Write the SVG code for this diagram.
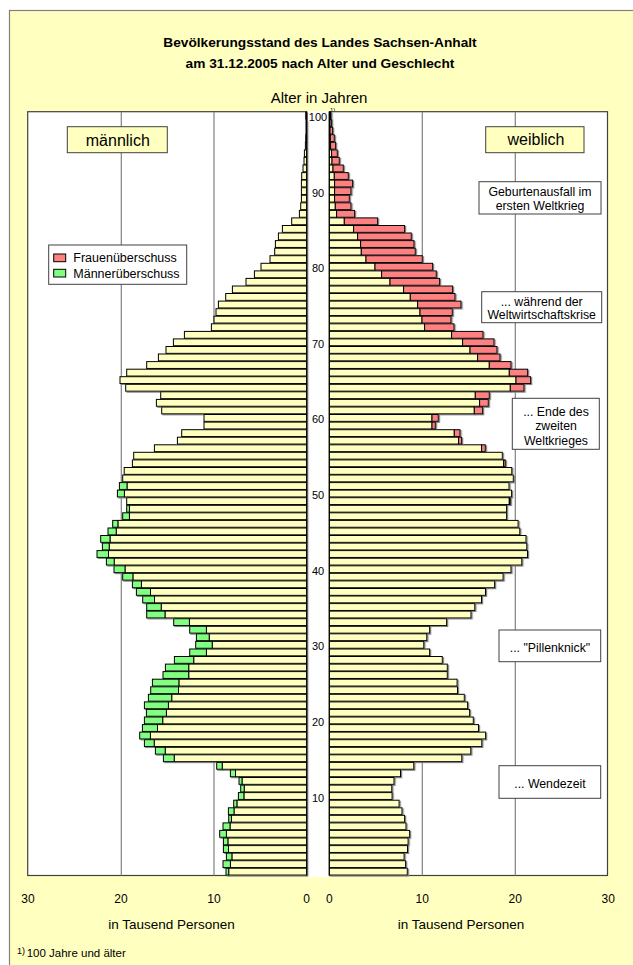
<svg xmlns="http://www.w3.org/2000/svg" width="633" height="965" viewBox="0 0 633 965">
<style>
text{font-family:"Liberation Sans",Arial,sans-serif;fill:#000}
.t{font-weight:bold;font-size:13.7px;text-anchor:middle}
.ax{font-size:12px;text-anchor:middle}
.age{font-size:11px;text-anchor:middle}
.note{font-size:12.3px;text-anchor:middle}
.lg{font-size:12.5px}
.yl{fill:#FFFFC0;stroke:#000;stroke-width:1}
.rd{fill:#FF8080;stroke:#000;stroke-width:1}
.gr{fill:#80FF80;stroke:#000;stroke-width:1}
.frame{fill:#fff;stroke:#404040;stroke-width:1.2}
.grid{stroke:#808080;stroke-width:1.2}
.box{fill:#fff;stroke:#404040;stroke-width:1}
.ybox{fill:#FFFFC0;stroke:#404040;stroke-width:1}
</style>
<defs>
<filter id="sh" x="-5%" y="-2%" width="110%" height="104%">
<feDropShadow dx="1.2" dy="1" stdDeviation="0" flood-color="#808080" flood-opacity="1"/>
</filter>
</defs>
<rect x="0" y="0" width="633" height="965" fill="#fff"/>
<rect x="9.5" y="10.5" width="640" height="970" fill="#FFFFC0" stroke="#808080" stroke-width="1.2"/>
<g id="title">
<text class="t" x="320" y="46.7">Bevölkerungsstand des Landes Sachsen-Anhalt</text>
<text class="t" x="320" y="68">am 31.12.2005 nach Alter und Geschlecht</text>
<text x="319" y="103.3" font-size="15" text-anchor="middle">Alter in Jahren</text>
<text x="330" y="111.6" font-size="6">1)</text>
</g>
<g id="plot-frames">
<rect class="frame" x="27.7" y="111.7" width="279" height="763.8"/>
<rect class="frame" x="329.3" y="111.7" width="278.2" height="763.8"/>
<rect x="307.3" y="111.1" width="21.4" height="766" fill="#fff"/>
<line class="grid" x1="121.3" y1="111.7" x2="121.3" y2="875.5"/>
<line class="grid" x1="214" y1="111.7" x2="214" y2="875.5"/>
<line class="grid" x1="422.3" y1="111.7" x2="422.3" y2="875.5"/>
<line class="grid" x1="515.3" y1="111.7" x2="515.3" y2="875.5"/>
</g>
<g id="bars-male" filter="url(#sh)">
<rect class="yl" x="305.7" y="112.1" width="1" height="6.85"/>
<rect class="yl" x="306.0" y="119.6" width="0.7" height="6.85"/>
<rect class="yl" x="306.0" y="127.2" width="0.7" height="6.85"/>
<rect class="yl" x="305.7" y="134.7" width="1" height="6.85"/>
<rect class="yl" x="305.4" y="142.3" width="1.3" height="6.85"/>
<rect class="yl" x="304.4" y="149.9" width="2.3" height="6.85"/>
<rect class="yl" x="304.0" y="157.4" width="2.7" height="6.85"/>
<rect class="yl" x="303.0" y="165.0" width="3.7" height="6.85"/>
<rect class="yl" x="301.7" y="172.6" width="5" height="6.85"/>
<rect class="yl" x="301.4" y="180.1" width="5.3" height="6.85"/>
<rect class="yl" x="301.4" y="187.7" width="5.3" height="6.85"/>
<rect class="yl" x="301.4" y="195.2" width="5.3" height="6.85"/>
<rect class="yl" x="300.7" y="202.8" width="6" height="6.85"/>
<rect class="yl" x="299.4" y="210.4" width="7.3" height="6.85"/>
<rect class="yl" x="291.7" y="217.9" width="15" height="6.85"/>
<rect class="yl" x="282.4" y="225.5" width="24.3" height="6.85"/>
<rect class="yl" x="278.4" y="233.0" width="28.3" height="6.85"/>
<rect class="yl" x="275.4" y="240.6" width="31.3" height="6.85"/>
<rect class="yl" x="274.7" y="248.2" width="32" height="6.85"/>
<rect class="yl" x="270.0" y="255.7" width="36.7" height="6.85"/>
<rect class="yl" x="261.0" y="263.3" width="45.7" height="6.85"/>
<rect class="yl" x="254.4" y="270.9" width="52.3" height="6.85"/>
<rect class="yl" x="246.0" y="278.4" width="60.7" height="6.85"/>
<rect class="yl" x="232.4" y="286.0" width="74.3" height="6.85"/>
<rect class="yl" x="225.7" y="293.5" width="81" height="6.85"/>
<rect class="yl" x="218.4" y="301.1" width="88.3" height="6.85"/>
<rect class="yl" x="216.0" y="308.7" width="90.7" height="6.85"/>
<rect class="yl" x="214.0" y="316.2" width="92.7" height="6.85"/>
<rect class="yl" x="211.4" y="323.8" width="95.3" height="6.85"/>
<rect class="yl" x="184.4" y="331.4" width="122.3" height="6.85"/>
<rect class="yl" x="173.4" y="338.9" width="133.3" height="6.85"/>
<rect class="yl" x="166.0" y="346.5" width="140.7" height="6.85"/>
<rect class="yl" x="158.4" y="354.0" width="148.3" height="6.85"/>
<rect class="yl" x="146.7" y="361.6" width="160" height="6.85"/>
<rect class="yl" x="126.7" y="369.2" width="180" height="6.85"/>
<rect class="yl" x="120.0" y="376.7" width="186.7" height="6.85"/>
<rect class="yl" x="125.7" y="384.3" width="181" height="6.85"/>
<rect class="yl" x="160.7" y="391.8" width="146" height="6.85"/>
<rect class="yl" x="156.4" y="399.4" width="150.3" height="6.85"/>
<rect class="yl" x="161.7" y="407.0" width="145" height="6.85"/>
<rect class="yl" x="204.0" y="414.5" width="102.7" height="6.85"/>
<rect class="yl" x="204.0" y="422.1" width="102.7" height="6.85"/>
<rect class="yl" x="181.7" y="429.7" width="125" height="6.85"/>
<rect class="yl" x="177.4" y="437.2" width="129.3" height="6.85"/>
<rect class="yl" x="154.4" y="444.8" width="152.3" height="6.85"/>
<rect class="yl" x="133.7" y="452.3" width="173" height="6.85"/>
<rect class="yl" x="132.4" y="459.9" width="174.3" height="6.85"/>
<rect class="yl" x="124.2" y="467.5" width="182.5" height="6.85"/>
<rect class="yl" x="122.7" y="475.0" width="184" height="6.85"/>
<rect class="yl" x="127.0" y="482.6" width="179.7" height="6.85"/>
<rect class="gr" x="119.4" y="482.6" width="7.6" height="6.85"/>
<rect class="yl" x="124.4" y="490.1" width="182.3" height="6.85"/>
<rect class="gr" x="117.4" y="490.1" width="7" height="6.85"/>
<rect class="yl" x="126.7" y="497.7" width="180" height="6.85"/>
<rect class="yl" x="129.4" y="505.3" width="177.3" height="6.85"/>
<rect class="gr" x="126.7" y="505.3" width="2.7" height="6.85"/>
<rect class="yl" x="129.4" y="512.8" width="177.3" height="6.85"/>
<rect class="gr" x="122.7" y="512.8" width="6.7" height="6.85"/>
<rect class="yl" x="117.9" y="520.4" width="188.8" height="6.85"/>
<rect class="gr" x="112.7" y="520.4" width="5.2" height="6.85"/>
<rect class="yl" x="116.2" y="528.0" width="190.5" height="6.85"/>
<rect class="gr" x="108.0" y="528.0" width="8.2" height="6.85"/>
<rect class="yl" x="110.0" y="535.5" width="196.7" height="6.85"/>
<rect class="gr" x="100.7" y="535.5" width="9.3" height="6.85"/>
<rect class="yl" x="109.2" y="543.1" width="197.5" height="6.85"/>
<rect class="gr" x="102.4" y="543.1" width="6.8" height="6.85"/>
<rect class="yl" x="108.5" y="550.6" width="198.2" height="6.85"/>
<rect class="gr" x="97.0" y="550.6" width="11.5" height="6.85"/>
<rect class="yl" x="114.2" y="558.2" width="192.5" height="6.85"/>
<rect class="gr" x="106.4" y="558.2" width="7.8" height="6.85"/>
<rect class="yl" x="125.0" y="565.8" width="181.7" height="6.85"/>
<rect class="gr" x="114.0" y="565.8" width="11" height="6.85"/>
<rect class="yl" x="132.9" y="573.3" width="173.8" height="6.85"/>
<rect class="gr" x="122.7" y="573.3" width="10.2" height="6.85"/>
<rect class="yl" x="141.4" y="580.9" width="165.3" height="6.85"/>
<rect class="gr" x="132.4" y="580.9" width="9" height="6.85"/>
<rect class="yl" x="150.5" y="588.5" width="156.2" height="6.85"/>
<rect class="gr" x="136.4" y="588.5" width="14.1" height="6.85"/>
<rect class="yl" x="154.5" y="596.0" width="152.2" height="6.85"/>
<rect class="gr" x="142.7" y="596.0" width="11.8" height="6.85"/>
<rect class="yl" x="161.2" y="603.6" width="145.5" height="6.85"/>
<rect class="gr" x="146.7" y="603.6" width="14.5" height="6.85"/>
<rect class="yl" x="165.0" y="611.1" width="141.7" height="6.85"/>
<rect class="gr" x="146.7" y="611.1" width="18.3" height="6.85"/>
<rect class="yl" x="189.4" y="618.7" width="117.3" height="6.85"/>
<rect class="gr" x="173.7" y="618.7" width="15.7" height="6.85"/>
<rect class="yl" x="206.4" y="626.3" width="100.3" height="6.85"/>
<rect class="gr" x="189.7" y="626.3" width="16.7" height="6.85"/>
<rect class="yl" x="209.2" y="633.8" width="97.5" height="6.85"/>
<rect class="gr" x="196.4" y="633.8" width="12.8" height="6.85"/>
<rect class="yl" x="212.2" y="641.4" width="94.5" height="6.85"/>
<rect class="gr" x="195.7" y="641.4" width="16.5" height="6.85"/>
<rect class="yl" x="206.4" y="649.0" width="100.3" height="6.85"/>
<rect class="gr" x="189.7" y="649.0" width="16.7" height="6.85"/>
<rect class="yl" x="193.7" y="656.5" width="113" height="6.85"/>
<rect class="gr" x="174.4" y="656.5" width="19.3" height="6.85"/>
<rect class="yl" x="188.7" y="664.1" width="118" height="6.85"/>
<rect class="gr" x="165.4" y="664.1" width="23.3" height="6.85"/>
<rect class="yl" x="188.7" y="671.6" width="118" height="6.85"/>
<rect class="gr" x="163.0" y="671.6" width="25.7" height="6.85"/>
<rect class="yl" x="178.9" y="679.2" width="127.8" height="6.85"/>
<rect class="gr" x="152.4" y="679.2" width="26.5" height="6.85"/>
<rect class="yl" x="178.5" y="686.8" width="128.2" height="6.85"/>
<rect class="gr" x="150.7" y="686.8" width="27.8" height="6.85"/>
<rect class="yl" x="171.7" y="694.3" width="135" height="6.85"/>
<rect class="gr" x="148.4" y="694.3" width="23.3" height="6.85"/>
<rect class="yl" x="168.4" y="701.9" width="138.3" height="6.85"/>
<rect class="gr" x="144.4" y="701.9" width="24" height="6.85"/>
<rect class="yl" x="166.4" y="709.4" width="140.3" height="6.85"/>
<rect class="gr" x="146.4" y="709.4" width="20" height="6.85"/>
<rect class="yl" x="162.7" y="717.0" width="144" height="6.85"/>
<rect class="gr" x="144.4" y="717.0" width="18.3" height="6.85"/>
<rect class="yl" x="157.5" y="724.6" width="149.2" height="6.85"/>
<rect class="gr" x="142.4" y="724.6" width="15.1" height="6.85"/>
<rect class="yl" x="150.4" y="732.1" width="156.3" height="6.85"/>
<rect class="gr" x="139.7" y="732.1" width="10.7" height="6.85"/>
<rect class="yl" x="154.2" y="739.7" width="152.5" height="6.85"/>
<rect class="gr" x="144.4" y="739.7" width="9.8" height="6.85"/>
<rect class="yl" x="165.2" y="747.3" width="141.5" height="6.85"/>
<rect class="gr" x="155.4" y="747.3" width="9.8" height="6.85"/>
<rect class="yl" x="174.2" y="754.8" width="132.5" height="6.85"/>
<rect class="gr" x="163.4" y="754.8" width="10.8" height="6.85"/>
<rect class="yl" x="222.2" y="762.4" width="84.5" height="6.85"/>
<rect class="gr" x="216.7" y="762.4" width="5.5" height="6.85"/>
<rect class="yl" x="235.5" y="769.9" width="71.2" height="6.85"/>
<rect class="gr" x="230.4" y="769.9" width="5.1" height="6.85"/>
<rect class="yl" x="242.0" y="777.5" width="64.7" height="6.85"/>
<rect class="gr" x="239.0" y="777.5" width="3" height="6.85"/>
<rect class="yl" x="244.2" y="785.1" width="62.5" height="6.85"/>
<rect class="gr" x="240.7" y="785.1" width="3.5" height="6.85"/>
<rect class="yl" x="243.9" y="792.6" width="62.8" height="6.85"/>
<rect class="gr" x="238.4" y="792.6" width="5.5" height="6.85"/>
<rect class="yl" x="236.9" y="800.2" width="69.8" height="6.85"/>
<rect class="gr" x="233.7" y="800.2" width="3.2" height="6.85"/>
<rect class="yl" x="234.0" y="807.8" width="72.7" height="6.85"/>
<rect class="gr" x="228.4" y="807.8" width="5.6" height="6.85"/>
<rect class="yl" x="231.4" y="815.3" width="75.3" height="6.85"/>
<rect class="gr" x="228.7" y="815.3" width="2.7" height="6.85"/>
<rect class="yl" x="230.0" y="822.9" width="76.7" height="6.85"/>
<rect class="gr" x="223.0" y="822.9" width="7" height="6.85"/>
<rect class="yl" x="226.4" y="830.4" width="80.3" height="6.85"/>
<rect class="gr" x="219.7" y="830.4" width="6.7" height="6.85"/>
<rect class="yl" x="227.9" y="838.0" width="78.8" height="6.85"/>
<rect class="gr" x="223.4" y="838.0" width="4.5" height="6.85"/>
<rect class="yl" x="228.5" y="845.6" width="78.2" height="6.85"/>
<rect class="gr" x="223.4" y="845.6" width="5.1" height="6.85"/>
<rect class="yl" x="231.9" y="853.1" width="74.8" height="6.85"/>
<rect class="gr" x="226.4" y="853.1" width="5.5" height="6.85"/>
<rect class="yl" x="230.4" y="860.7" width="76.3" height="6.85"/>
<rect class="gr" x="223.0" y="860.7" width="7.4" height="6.85"/>
<rect class="yl" x="228.7" y="868.2" width="78" height="6.85"/>
<rect class="gr" x="226.0" y="868.2" width="2.7" height="6.85"/>
</g>
<g id="bars-female" filter="url(#sh)">
<rect class="yl" x="329.3" y="112.1" width="1" height="6.85"/><rect class="rd" x="330.3" y="112.1" width="0.7" height="6.85"/>
<rect class="yl" x="329.3" y="119.6" width="0.7" height="6.85"/><rect class="rd" x="330.0" y="119.6" width="1.6" height="6.85"/>
<rect class="yl" x="329.3" y="127.2" width="0.7" height="6.85"/><rect class="rd" x="330.0" y="127.2" width="2.6" height="6.85"/>
<rect class="yl" x="329.3" y="134.7" width="1" height="6.85"/><rect class="rd" x="330.3" y="134.7" width="4" height="6.85"/>
<rect class="yl" x="329.3" y="142.3" width="1.3" height="6.85"/><rect class="rd" x="330.6" y="142.3" width="5" height="6.85"/>
<rect class="yl" x="329.3" y="149.9" width="2.3" height="6.85"/><rect class="rd" x="331.6" y="149.9" width="5.7" height="6.85"/>
<rect class="yl" x="329.3" y="157.4" width="2.7" height="6.85"/><rect class="rd" x="332.0" y="157.4" width="7.3" height="6.85"/>
<rect class="yl" x="329.3" y="165.0" width="3.7" height="6.85"/><rect class="rd" x="333.0" y="165.0" width="10.3" height="6.85"/>
<rect class="yl" x="329.3" y="172.6" width="5" height="6.85"/><rect class="rd" x="334.3" y="172.6" width="14" height="6.85"/>
<rect class="yl" x="329.3" y="180.1" width="5.3" height="6.85"/><rect class="rd" x="334.6" y="180.1" width="18" height="6.85"/>
<rect class="yl" x="329.3" y="187.7" width="5.3" height="6.85"/><rect class="rd" x="334.6" y="187.7" width="16.4" height="6.85"/>
<rect class="yl" x="329.3" y="195.2" width="5.3" height="6.85"/><rect class="rd" x="334.6" y="195.2" width="14.7" height="6.85"/>
<rect class="yl" x="329.3" y="202.8" width="6" height="6.85"/><rect class="rd" x="335.3" y="202.8" width="15.7" height="6.85"/>
<rect class="yl" x="329.3" y="210.4" width="7.3" height="6.85"/><rect class="rd" x="336.6" y="210.4" width="18" height="6.85"/>
<rect class="yl" x="329.3" y="217.9" width="15" height="6.85"/><rect class="rd" x="344.3" y="217.9" width="33.3" height="6.85"/>
<rect class="yl" x="329.3" y="225.5" width="24.3" height="6.85"/><rect class="rd" x="353.6" y="225.5" width="51" height="6.85"/>
<rect class="yl" x="329.3" y="233.0" width="28.3" height="6.85"/><rect class="rd" x="357.6" y="233.0" width="53.7" height="6.85"/>
<rect class="yl" x="329.3" y="240.6" width="31.3" height="6.85"/><rect class="rd" x="360.6" y="240.6" width="53.4" height="6.85"/>
<rect class="yl" x="329.3" y="248.2" width="32" height="6.85"/><rect class="rd" x="361.3" y="248.2" width="54" height="6.85"/>
<rect class="yl" x="329.3" y="255.7" width="36.7" height="6.85"/><rect class="rd" x="366.0" y="255.7" width="56.3" height="6.85"/>
<rect class="yl" x="329.3" y="263.3" width="45.7" height="6.85"/><rect class="rd" x="375.0" y="263.3" width="57.6" height="6.85"/>
<rect class="yl" x="329.3" y="270.9" width="52.3" height="6.85"/><rect class="rd" x="381.6" y="270.9" width="54.7" height="6.85"/>
<rect class="yl" x="329.3" y="278.4" width="60.7" height="6.85"/><rect class="rd" x="390.0" y="278.4" width="49.6" height="6.85"/>
<rect class="yl" x="329.3" y="286.0" width="74.3" height="6.85"/><rect class="rd" x="403.6" y="286.0" width="49" height="6.85"/>
<rect class="yl" x="329.3" y="293.5" width="81" height="6.85"/><rect class="rd" x="410.3" y="293.5" width="44.7" height="6.85"/>
<rect class="yl" x="329.3" y="301.1" width="88.3" height="6.85"/><rect class="rd" x="417.6" y="301.1" width="43.4" height="6.85"/>
<rect class="yl" x="329.3" y="308.7" width="90.7" height="6.85"/><rect class="rd" x="420.0" y="308.7" width="32.3" height="6.85"/>
<rect class="yl" x="329.3" y="316.2" width="92.7" height="6.85"/><rect class="rd" x="422.0" y="316.2" width="29" height="6.85"/>
<rect class="yl" x="329.3" y="323.8" width="95.3" height="6.85"/><rect class="rd" x="424.6" y="323.8" width="29.4" height="6.85"/>
<rect class="yl" x="329.3" y="331.4" width="122.3" height="6.85"/><rect class="rd" x="451.6" y="331.4" width="31.4" height="6.85"/>
<rect class="yl" x="329.3" y="338.9" width="133.3" height="6.85"/><rect class="rd" x="462.6" y="338.9" width="31.4" height="6.85"/>
<rect class="yl" x="329.3" y="346.5" width="140.7" height="6.85"/><rect class="rd" x="470.0" y="346.5" width="27" height="6.85"/>
<rect class="yl" x="329.3" y="354.0" width="148.3" height="6.85"/><rect class="rd" x="477.6" y="354.0" width="22.4" height="6.85"/>
<rect class="yl" x="329.3" y="361.6" width="160" height="6.85"/><rect class="rd" x="489.3" y="361.6" width="21.7" height="6.85"/>
<rect class="yl" x="329.3" y="369.2" width="180" height="6.85"/><rect class="rd" x="509.3" y="369.2" width="18.3" height="6.85"/>
<rect class="yl" x="329.3" y="376.7" width="186.7" height="6.85"/><rect class="rd" x="516.0" y="376.7" width="14.6" height="6.85"/>
<rect class="yl" x="329.3" y="384.3" width="181" height="6.85"/><rect class="rd" x="510.3" y="384.3" width="13.7" height="6.85"/>
<rect class="yl" x="329.3" y="391.8" width="146" height="6.85"/><rect class="rd" x="475.3" y="391.8" width="14" height="6.85"/>
<rect class="yl" x="329.3" y="399.4" width="150.3" height="6.85"/><rect class="rd" x="479.6" y="399.4" width="8.7" height="6.85"/>
<rect class="yl" x="329.3" y="407.0" width="145" height="6.85"/><rect class="rd" x="474.3" y="407.0" width="8.3" height="6.85"/>
<rect class="yl" x="329.3" y="414.5" width="102.7" height="6.85"/><rect class="rd" x="432.0" y="414.5" width="6.3" height="6.85"/>
<rect class="yl" x="329.3" y="422.1" width="102.7" height="6.85"/><rect class="rd" x="432.0" y="422.1" width="3.3" height="6.85"/>
<rect class="yl" x="329.3" y="429.7" width="125" height="6.85"/><rect class="rd" x="454.3" y="429.7" width="5.7" height="6.85"/>
<rect class="yl" x="329.3" y="437.2" width="129.3" height="6.85"/><rect class="rd" x="458.6" y="437.2" width="3" height="6.85"/>
<rect class="yl" x="329.3" y="444.8" width="152.3" height="6.85"/><rect class="rd" x="481.6" y="444.8" width="3.7" height="6.85"/>
<rect class="yl" x="329.3" y="452.3" width="173" height="6.85"/>
<rect class="yl" x="329.3" y="459.9" width="174.3" height="6.85"/><rect class="rd" x="503.6" y="459.9" width="1.7" height="6.85"/>
<rect class="yl" x="329.3" y="467.5" width="182.5" height="6.85"/>
<rect class="yl" x="329.3" y="475.0" width="184" height="6.85"/>
<rect class="yl" x="329.3" y="482.6" width="179.7" height="6.85"/>
<rect class="yl" x="329.3" y="490.1" width="182.3" height="6.85"/>
<rect class="yl" x="329.3" y="497.7" width="180" height="6.85"/><rect class="rd" x="509.3" y="497.7" width="1" height="6.85"/>
<rect class="yl" x="329.3" y="505.3" width="177.3" height="6.85"/>
<rect class="yl" x="329.3" y="512.8" width="177.3" height="6.85"/>
<rect class="yl" x="329.3" y="520.4" width="188.8" height="6.85"/>
<rect class="yl" x="329.3" y="528.0" width="190.5" height="6.85"/>
<rect class="yl" x="329.3" y="535.5" width="196.7" height="6.85"/>
<rect class="yl" x="329.3" y="543.1" width="197.5" height="6.85"/>
<rect class="yl" x="329.3" y="550.6" width="198.2" height="6.85"/>
<rect class="yl" x="329.3" y="558.2" width="192.5" height="6.85"/>
<rect class="yl" x="329.3" y="565.8" width="181.7" height="6.85"/>
<rect class="yl" x="329.3" y="573.3" width="173.8" height="6.85"/>
<rect class="yl" x="329.3" y="580.9" width="165.3" height="6.85"/>
<rect class="yl" x="329.3" y="588.5" width="156.2" height="6.85"/>
<rect class="yl" x="329.3" y="596.0" width="152.2" height="6.85"/>
<rect class="yl" x="329.3" y="603.6" width="145.5" height="6.85"/>
<rect class="yl" x="329.3" y="611.1" width="141.7" height="6.85"/>
<rect class="yl" x="329.3" y="618.7" width="117.3" height="6.85"/>
<rect class="yl" x="329.3" y="626.3" width="100.3" height="6.85"/>
<rect class="yl" x="329.3" y="633.8" width="97.5" height="6.85"/>
<rect class="yl" x="329.3" y="641.4" width="94.5" height="6.85"/>
<rect class="yl" x="329.3" y="649.0" width="100.3" height="6.85"/>
<rect class="yl" x="329.3" y="656.5" width="113" height="6.85"/>
<rect class="yl" x="329.3" y="664.1" width="118" height="6.85"/>
<rect class="yl" x="329.3" y="671.6" width="118" height="6.85"/>
<rect class="yl" x="329.3" y="679.2" width="127.8" height="6.85"/>
<rect class="yl" x="329.3" y="686.8" width="128.2" height="6.85"/>
<rect class="yl" x="329.3" y="694.3" width="135" height="6.85"/>
<rect class="yl" x="329.3" y="701.9" width="138.3" height="6.85"/>
<rect class="yl" x="329.3" y="709.4" width="140.3" height="6.85"/>
<rect class="yl" x="329.3" y="717.0" width="144" height="6.85"/>
<rect class="yl" x="329.3" y="724.6" width="149.2" height="6.85"/>
<rect class="yl" x="329.3" y="732.1" width="156.3" height="6.85"/>
<rect class="yl" x="329.3" y="739.7" width="152.5" height="6.85"/>
<rect class="yl" x="329.3" y="747.3" width="141.5" height="6.85"/>
<rect class="yl" x="329.3" y="754.8" width="132.5" height="6.85"/>
<rect class="yl" x="329.3" y="762.4" width="84.5" height="6.85"/>
<rect class="yl" x="329.3" y="769.9" width="71.2" height="6.85"/>
<rect class="yl" x="329.3" y="777.5" width="64.7" height="6.85"/>
<rect class="yl" x="329.3" y="785.1" width="62.5" height="6.85"/>
<rect class="yl" x="329.3" y="792.6" width="62.8" height="6.85"/>
<rect class="yl" x="329.3" y="800.2" width="69.8" height="6.85"/>
<rect class="yl" x="329.3" y="807.8" width="72.7" height="6.85"/>
<rect class="yl" x="329.3" y="815.3" width="75.3" height="6.85"/>
<rect class="yl" x="329.3" y="822.9" width="76.7" height="6.85"/>
<rect class="yl" x="329.3" y="830.4" width="80.3" height="6.85"/>
<rect class="yl" x="329.3" y="838.0" width="78.8" height="6.85"/>
<rect class="yl" x="329.3" y="845.6" width="78.2" height="6.85"/>
<rect class="yl" x="329.3" y="853.1" width="74.8" height="6.85"/>
<rect class="yl" x="329.3" y="860.7" width="76.3" height="6.85"/>
<rect class="yl" x="329.3" y="868.2" width="78" height="6.85"/>
</g>
<g id="age-axis">
<line x1="306.7" y1="111.7" x2="306.7" y2="875.5" stroke="#000" stroke-width="1"/>
<line x1="329.3" y1="111.7" x2="329.3" y2="875.5" stroke="#000" stroke-width="1"/>
<rect x="308" y="112.5" width="20" height="9" fill="#fff"/>
<text class="age" x="318" y="120.8">100</text>
<text class="age" x="318" y="196.6">90</text>
<text class="age" x="318" y="272.2">80</text>
<text class="age" x="318" y="347.8">70</text>
<text class="age" x="318" y="423.4">60</text>
<text class="age" x="318" y="499.1">50</text>
<text class="age" x="318" y="574.7">40</text>
<text class="age" x="318" y="650.3">30</text>
<text class="age" x="318" y="725.9">20</text>
<text class="age" x="318" y="801.5">10</text>
</g>
<g id="x-axis">
<text class="ax" x="28" y="902.5">30</text>
<text class="ax" x="121" y="902.5">20</text>
<text class="ax" x="214" y="902.5">10</text>
<text class="ax" x="306.7" y="902.5">0</text>
<text class="ax" x="329.3" y="902.5">0</text>
<text class="ax" x="422.3" y="902.5">10</text>
<text class="ax" x="515.3" y="902.5">20</text>
<text class="ax" x="608.3" y="902.5">30</text>
<text x="171.5" y="929" font-size="13.5" text-anchor="middle">in Tausend Personen</text>
<text x="461" y="929" font-size="13.5" text-anchor="middle">in Tausend Personen</text>
</g>
<g id="footnote">
<text x="17" y="953.5" font-size="9">1)</text>
<text x="26.7" y="956.5" font-size="11.5">100 Jahre und älter</text>
</g>
<g id="label-maennlich">
<rect class="ybox" x="67.3" y="126.7" width="100" height="26"/>
<text x="117.8" y="145.7" font-size="16" text-anchor="middle">männlich</text>
</g>
<g id="label-weiblich">
<rect class="ybox" x="485.7" y="126.7" width="98.3" height="26"/>
<text x="536" y="145.2" font-size="16" text-anchor="middle">weiblich</text>
</g>
<g id="legend">
<rect class="box" x="48.7" y="245" width="138" height="39.3"/>
<rect class="rd" x="53.7" y="254" width="12" height="7.7"/>
<rect class="gr" x="53.7" y="269.3" width="12" height="7.7"/>
<text class="lg" x="73.3" y="262.3">Frauenüberschuss</text>
<text class="lg" x="73.3" y="278.3">Männerüberschuss</text>
</g>
<g id="note-weltkrieg1">
<rect class="box" x="479" y="181.7" width="122" height="32.3"/>
<text class="note" x="540" y="196">Geburtenausfall im</text>
<text class="note" x="540" y="210.3">ersten Weltkrieg</text>
</g>
<g id="note-krise">
<rect class="box" x="481.7" y="291.7" width="120" height="31"/>
<text class="note" x="541.7" y="305.7">... während der</text>
<text class="note" x="541.7" y="319">Weltwirtschaftskrise</text>
</g>
<g id="note-weltkrieg2">
<rect class="box" x="512.3" y="398.3" width="87" height="51"/>
<text class="note" x="556" y="415.7">... Ende des</text>
<text class="note" x="556" y="430">zweiten</text>
<text class="note" x="556" y="444.7">Weltkrieges</text>
</g>
<g id="note-pillenknick">
<rect class="box" x="499" y="630" width="101.7" height="31.7"/>
<text class="note" x="550" y="652">... "Pillenknick"</text>
</g>
<g id="note-wendezeit">
<rect class="box" x="499" y="765.7" width="101.7" height="32.6"/>
<text class="note" x="550" y="787.7">... Wendezeit</text>
</g>
</svg>
